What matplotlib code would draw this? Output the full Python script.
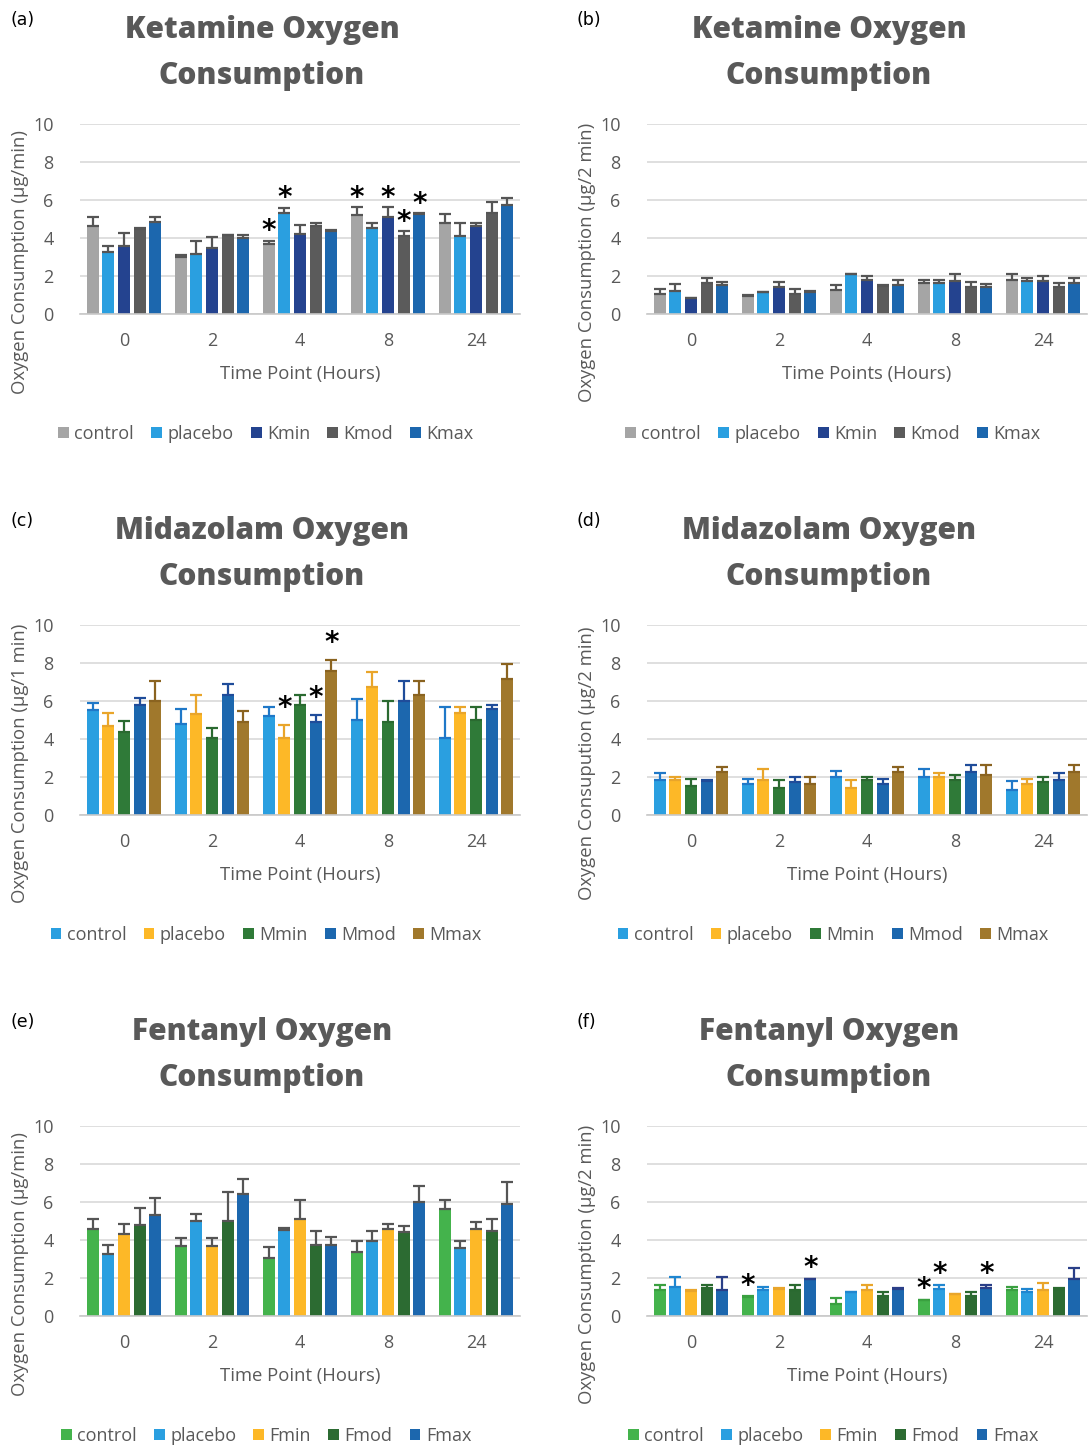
import matplotlib
matplotlib.use("Agg")
import matplotlib.pyplot as plt
from matplotlib.patches import Patch
import numpy as np

plt.rcParams['font.family'] = ['Open Sans', 'DejaVu Sans']

W, H = 1091, 1446
time_points = ["0", "2", "4", "8", "24"]

# ---------------- data ----------------
# Ketamine per min (a)
ket_series = ["control", "placebo", "Kmin", "Kmod", "Kmax"]
ket_a_mean = [[4.61, 2.99, 3.70, 5.19, 4.79],
              [3.26, 3.17, 5.32, 4.51, 4.08],
              [3.59, 3.49, 4.19, 5.12, 4.61],
              [4.49, 4.15, 4.61, 4.08, 5.32],
              [4.82, 4.00, 4.37, 5.28, 5.72]]
ket_a_top = [[5.09, 3.13, 3.86, 5.62, 5.28],
             [3.56, 3.86, 5.58, 4.77, 4.77],
             [4.26, 4.07, 4.68, 5.62, 4.77],
             [4.53, 4.17, 4.77, 4.35, 5.92],
             [5.09, 4.14, 4.40, 5.30, 6.09]]
ket_a_star = [(0, 2), (1, 2), (0, 3), (2, 3), (3, 3), (4, 3)]  # (series, group)

# Ketamine per 2 min (b)
ket_b_mean = [[1.04, 0.95, 1.25, 1.64, 1.81],
              [1.21, 1.16, 2.08, 1.64, 1.73],
              [0.83, 1.43, 1.81, 1.73, 1.73],
              [1.62, 1.04, 1.50, 1.44, 1.44],
              [1.53, 1.18, 1.53, 1.44, 1.64]]
ket_b_top = [[1.32, 0.99, 1.51, 1.80, 2.11],
             [1.60, 1.18, 2.10, 1.80, 1.92],
             [0.86, 1.71, 2.02, 2.11, 2.01],
             [1.92, 1.32, 1.52, 1.69, 1.62],
             [1.71, 1.20, 1.80, 1.60, 1.92]]
ket_b_star = []

# Midazolam per 1 min (c)
mid_series = ["control", "placebo", "Mmin", "Mmod", "Mmax"]
mid_c_mean = [[5.51, 4.79, 5.19, 5.00, 4.06],
              [4.68, 5.30, 4.06, 6.73, 5.39],
              [4.35, 4.06, 5.81, 4.89, 4.98],
              [5.81, 6.33, 4.89, 6.01, 5.58],
              [6.01, 4.89, 7.58, 6.33, 7.14]]
mid_c_top = [[5.88, 5.58, 5.67, 6.08, 5.67],
             [5.37, 6.29, 4.75, 7.53, 5.67],
             [4.96, 4.56, 6.29, 5.99, 5.67],
             [6.18, 6.91, 5.28, 7.03, 5.78],
             [7.03, 5.49, 8.14, 7.03, 7.97]]
mid_c_star = [(1, 2), (3, 2), (4, 2)]

# Midazolam per 2 min (d)
mid_d_mean = [[1.83, 1.62, 2.02, 2.02, 1.30],
              [1.83, 1.83, 1.43, 2.02, 1.62],
              [1.53, 1.43, 1.83, 1.83, 1.73],
              [1.81, 1.73, 1.62, 2.24, 1.83],
              [2.24, 1.62, 2.24, 2.13, 2.24]]
mid_d_top = [[2.22, 1.90, 2.32, 2.43, 1.81],
             [2.01, 2.43, 1.83, 2.22, 1.92],
             [1.90, 1.83, 2.02, 2.13, 2.02],
             [1.83, 2.02, 1.92, 2.62, 2.22],
             [2.52, 2.02, 2.52, 2.62, 2.62]]
mid_d_star = []

# Fentanyl per min (e)
fen_series = ["control", "placebo", "Fmin", "Fmod", "Fmax"]
fen_e_mean = [[4.59, 3.67, 3.06, 3.36, 5.61],
              [3.27, 5.01, 4.53, 3.97, 3.57],
              [4.31, 3.67, 5.11, 4.59, 4.59],
              [4.80, 4.99, 3.76, 4.41, 4.50],
              [5.31, 6.43, 3.76, 6.01, 5.92]]
fen_e_top = [[5.08, 4.13, 3.64, 3.94, 6.10],
             [3.73, 5.38, 4.64, 4.45, 3.94],
             [4.85, 4.13, 6.08, 4.85, 4.96],
             [5.69, 6.52, 4.45, 4.75, 5.08],
             [6.19, 7.21, 4.15, 6.82, 7.04]]
fen_e_star = []

# Fentanyl per 2 min (f)
fen_f_mean = [[1.35, 0.98, 0.65, 0.84, 1.35],
              [1.54, 1.35, 1.25, 1.44, 1.25],
              [1.33, 1.44, 1.35, 1.14, 1.35],
              [1.46, 1.35, 1.05, 1.05, 1.44],
              [1.35, 1.95, 1.44, 1.46, 1.95]]
fen_f_top = [[1.65, 1.04, 0.93, 0.86, 1.54],
             [2.05, 1.54, 1.27, 1.65, 1.44],
             [1.35, 1.46, 1.65, 1.16, 1.74],
             [1.65, 1.65, 1.25, 1.25, 1.46],
             [2.05, 1.97, 1.46, 1.65, 2.54]]
fen_f_star = [(0, 1), (4, 1), (0, 3), (1, 3), (4, 3)]

# ---------------- styles ----------------
C_GRAY = "#A5A5A5"
C_LBLUE = "#2A9FE0"
C_NAVY = "#24438F"
C_DGRAY = "#5B5B5B"
C_BLUE = "#1C67AE"
C_YEL = "#FDB827"
C_GRN = "#2F7A38"
C_BROWN = "#A0782C"
C_LGRN = "#44B34C"
C_DGRN = "#2C6B32"

ket_colors = [C_GRAY, C_LBLUE, C_NAVY, C_DGRAY, C_BLUE]
ket_ecolors = ["#555555"] * 5
mid_colors = [C_LBLUE, C_YEL, C_GRN, C_BLUE, C_BROWN]
mid_ecolors = ["#1F78C8", "#E9A52A", "#2A6A30", "#1F4C9A", "#8A6320"]
fen_colors = [C_LGRN, C_LBLUE, C_YEL, C_DGRN, C_BLUE]
fen_ecolors_e = ["#555555"] * 5
fen_ecolors_f = ["#3AA040", "#1F86D0", "#E9A52A", "#2A6A30", "#2A3F88"]

TXT = "#595959"

fig = plt.figure(figsize=(W / 100, H / 100), dpi=100)
fig.patch.set_facecolor("white")


def px_axes(x0, y0, x1, y1):
    return fig.add_axes([x0 / W, 1 - y1 / H, (x1 - x0) / W, (y1 - y0) / H])


panels = [
    dict(tag="(a)", title="Ketamine Oxygen\nConsumption", ylabel="Oxygen Consumption (µg/min)",
         xlabel="Time Point (Hours)", series=ket_series, mean=ket_a_mean, top=ket_a_top,
         stars=ket_a_star, colors=ket_colors, ecolors=ket_ecolors, col=0, row=0, soff=0.5),
    dict(tag="(b)", title="Ketamine Oxygen\nConsumption", ylabel="Oxygen Consumption (µg/2 min)",
         xlabel="Time Points (Hours)", series=ket_series, mean=ket_b_mean, top=ket_b_top,
         stars=ket_b_star, colors=ket_colors, ecolors=ket_ecolors, col=1, row=0, soff=0.5),
    dict(tag="(c)", title="Midazolam Oxygen\nConsumption", ylabel="Oxygen Consumption (µg/1 min)",
         xlabel="Time Point (Hours)", series=mid_series, mean=mid_c_mean, top=mid_c_top,
         stars=mid_c_star, colors=mid_colors, ecolors=mid_ecolors, col=0, row=1, soff=0.9),
    dict(tag="(d)", title="Midazolam Oxygen\nConsumption", ylabel="Oxygen Consupution (µg/2 min)",
         xlabel="Time Point (Hours)", series=mid_series, mean=mid_d_mean, top=mid_d_top,
         stars=mid_d_star, colors=mid_colors, ecolors=mid_ecolors, col=1, row=1, soff=0.5),
    dict(tag="(e)", title="Fentanyl Oxygen\nConsumption", ylabel="Oxygen Consumption (µg/min)",
         xlabel="Time Point (Hours)", series=fen_series, mean=fen_e_mean, top=fen_e_top,
         stars=fen_e_star, colors=fen_colors, ecolors=fen_ecolors_e, col=0, row=2, soff=0.5),
    dict(tag="(f)", title="Fentanyl Oxygen\nConsumption", ylabel="Oxygen Consumption (µg/2 min)",
         xlabel="Time Point (Hours)", series=fen_series, mean=fen_f_mean, top=fen_f_top,
         stars=fen_f_star, colors=fen_colors, ecolors=fen_ecolors_f, col=1, row=2, soff=0.55),
]

col_x = [(80, 520), (647, 1087)]
row_y = [(124, 314), (625, 815), (1126, 1316)]
row_off = [0, 501, 1002]
col_off = [0, 567]

step = 0.178
bw = 0.136

for p in panels:
    x0, x1 = col_x[p["col"]]
    y0, y1 = row_y[p["row"]]
    dy = row_off[p["row"]]
    dx = col_off[p["col"]]
    ax = px_axes(x0, y0, x1, y1)
    ax.set_xlim(-0.5, len(time_points) - 0.5)
    ax.set_ylim(0, 10)
    ax.set_yticks([0, 2, 4, 6, 8, 10])
    ax.yaxis.grid(True, color="#D9D9D9", linewidth=1.2)
    ax.set_axisbelow(True)
    for s in ["top", "right", "left"]:
        ax.spines[s].set_visible(False)
    ax.spines["bottom"].set_color("#C8C8C8")
    ax.spines["bottom"].set_linewidth(1.2)
    ax.tick_params(axis="both", length=0, labelsize=13, labelcolor=TXT)
    ax.tick_params(axis="y", pad=19)
    ax.tick_params(axis="x", pad=13)
    x = np.arange(len(time_points))
    ax.set_xticks(x)
    ax.set_xticklabels(time_points)
    ax.set_yticklabels(["0", "2", "4", "6", "8", "10"])
    n = len(p["series"])
    for i in range(n):
        xs = x + (i - (n - 1) / 2) * step
        m = np.array(p["mean"][i])
        t = np.array(p["top"][i])
        ax.bar(xs, m, width=bw, color=p["colors"][i], zorder=2)
        ax.errorbar(xs, m, yerr=[np.zeros_like(m), t - m], fmt="none",
                    ecolor=p["ecolors"][i], elinewidth=1.6, capsize=4.5, capthick=1.6, zorder=3)
    for (si, gi) in p["stars"]:
        xs = gi + (si - (n - 1) / 2) * step
        ax.text(xs, p["top"][si][gi] + p["soff"], "*", ha="center", va="center",
                fontsize=20, fontweight="bold", color="black", family="DejaVu Sans", zorder=4)
    # panel tag
    fig.text((10 + dx) / W, 1 - (20 + dy) / H, p["tag"], fontsize=12.5, color="black",
             ha="left", va="center", family="DejaVu Sans")
    # title
    tx = 262 + dx
    l1, l2 = p["title"].split("\n")
    fig.text(tx / W, 1 - (30 + dy) / H, l1, fontsize=21.5, fontweight="extra bold", color=TXT,
             ha="center", va="center")
    fig.text(tx / W, 1 - (76 + dy) / H, l2, fontsize=21.5, fontweight="extra bold", color=TXT,
             ha="center", va="center")
    # y label
    fig.text((20 + dx) / W, 1 - (262 + dy) / H, p["ylabel"], rotation=90, fontsize=13.3,
             color=TXT, ha="center", va="center")
    # x label
    fig.text((300 + dx) / W, 1 - (374 + dy) / H, p["xlabel"], fontsize=13.3, color=TXT,
             ha="center", va="center")
    # legend
    handles = [Patch(facecolor=c, edgecolor="none") for c in p["colors"]]
    fig.legend(handles, p["series"], loc="center", ncol=n, frameon=False,
               bbox_to_anchor=((266 + dx) / W, 1 - (434 + dy) / H),
               fontsize=13, labelcolor=TXT, handlelength=0.6, handleheight=0.6,
               handletextpad=0.3, columnspacing=0.95)

fig.savefig("out.png", dpi=100, facecolor="white")
